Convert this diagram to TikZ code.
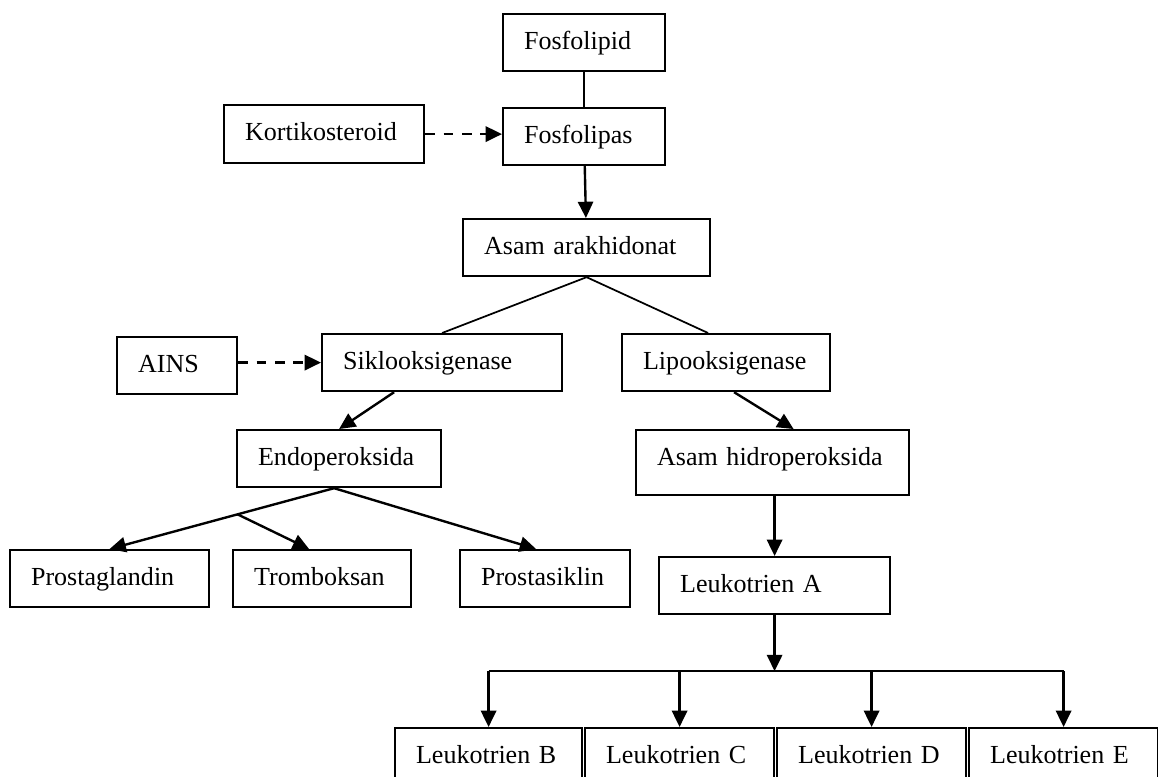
\documentclass[tikz,border=0pt]{standalone}
\usepackage{fontspec}
\setmainfont{Liberation Serif}
\usetikzlibrary{arrows.meta,calc}
\newlength{\pxu}
\setlength{\pxu}{0.461pt}

\begin{document}
\begin{tikzpicture}[x=0.461pt, y=-0.461pt,
    box/.style={rectangle, draw, line width=1pt, anchor=north west, align=left, inner xsep=21\pxu, inner ysep=0pt, minimum height=57\pxu, text height=8.5pt, text depth=2.5pt, font=\fontsize{12pt}{14pt}\selectfont},
    link/.style={line width=1pt},
    arr/.style={line width=1.1pt, -{Triangle[length=7.5pt,width=7pt]}},
    inhib/.style={arr, dash pattern=on 4.5pt off 4pt}]
    \useasboundingbox (0,0) rectangle (1158,776);
    \clip (0,0) rectangle (1158,776);

    \node (fosfolipid) [box, text width=120\pxu] at (502,13) {Fosfolipid};
    \node (korti) [box, text width=158\pxu, minimum height=58\pxu] at (223,104) {Kortikosteroid};
    \node (fosfolipas) [box, text width=120\pxu] at (502,107) {Fosfolipas};
    \node (arakhidonat) [box, text width=205\pxu] at (462,218) {Asam arakhidonat};
    \node (ains) [box, text width=78\pxu] at (116,336) {AINS};
    \node (sikloo) [box, text width=198\pxu] at (321,333) {Siklooksigenase};
    \node (lipoo) [box, text width=166\pxu] at (621,333) {Lipooksigenase};
    \node (endo) [box, text width=162\pxu] at (236,429) {Endoperoksida};
    \node (hidro) [box, text width=231\pxu, minimum height=65\pxu, text depth=6.25pt] at (635,429) {Asam hidroperoksida};
    \node (prostag) [box, text width=157\pxu] at (9,549) {Prostaglandin};
    \node (tromb) [box, text width=136\pxu] at (232,549) {Tromboksan};
    \node (prostas) [box, text width=128\pxu] at (459,549) {Prostasiklin};
    \node (leukA) [box, text width=189\pxu] at (658,556) {Leukotrien A};
    \node (lB) [box, text width=145\pxu] at (394,727) {Leukotrien B};
    \node (lC) [box, text width=147\pxu] at (584,727) {Leukotrien C};
    \node (lD) [box, text width=147\pxu] at (776,727) {Leukotrien D};
    \node (lE) [box, text width=147\pxu] at (968,727) {Leukotrien E};

    \coordinate (endofork) at ([xshift=-5\pxu]endo.south);
    \coordinate (split) at ($(endofork)!0.43!(prostag.north)$);
    \coordinate (bar) at ($(leukA.south)+(0,56)$);

    \draw [link] (fosfolipid) -- (fosfolipas);
    \draw [inhib] (korti.east) -- (korti.east -| fosfolipas.west);
    \draw [arr] (fosfolipas) -- (arakhidonat);
    \draw [link, line width=0.8pt] (arakhidonat.south) -- (sikloo.north);
    \draw [link, line width=0.8pt] (arakhidonat.south) -- ([xshift=-18\pxu]lipoo.north);
    \draw [inhib] (ains.east |- sikloo.west) -- (sikloo.west);
    \draw [arr] ([xshift=-48\pxu]sikloo.south) -- (endo.north);
    \draw [arr] ([xshift=8\pxu]lipoo.south) -- ([xshift=21\pxu]hidro.north);
    \draw [arr] (endofork) -- (prostag.north);
    \draw [arr] (split) -- ([xshift=-13\pxu]tromb.north);
    \draw [arr] (endofork) -- ([xshift=-9\pxu]prostas.north);
    \draw [arr] (leukA.north |- hidro.south) -- (leukA.north);
    \draw [arr] (leukA.south) -- (bar);
    \draw [link] (lB.north |- bar) -- (lE.north |- bar);
    \foreach \n in {lB,lC,lD,lE}
        \draw [arr] (\n.north |- bar) -- (\n.north);
\end{tikzpicture}
\end{document}
